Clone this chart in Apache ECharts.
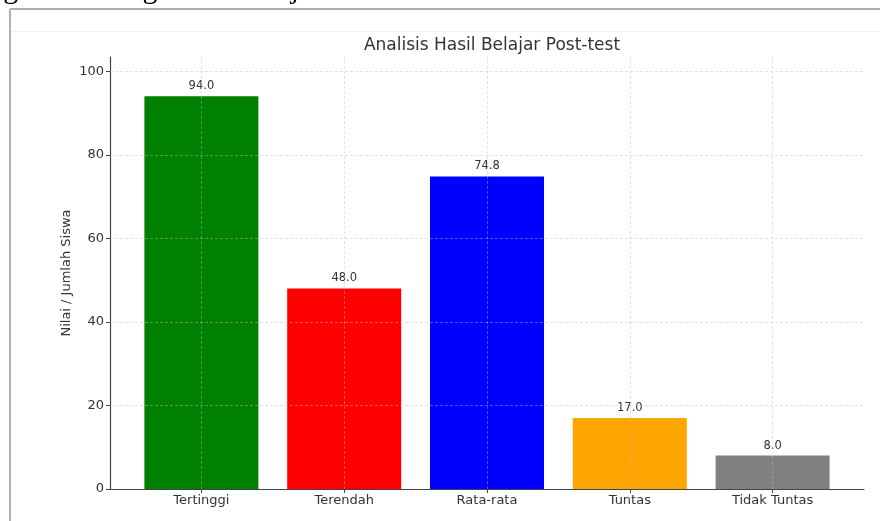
<!DOCTYPE html>
<html>
<head>
<meta charset="utf-8">
<script src="https://cdn.jsdelivr.net/npm/echarts@6/dist/echarts.min.js"></script>
<style>
  html, body { margin: 0; padding: 0; background: #fff; }
  #main { width: 880px; height: 521px; }
</style>
</head>
<body>
<div id="main"></div>
<script>
const categories = ["Tertinggi", "Terendah", "Rata-rata", "Tuntas", "Tidak Tuntas"];
const values = [94.0, 48.0, 74.8, 17.0, 8.0];
const barColors = ["#008000", "#ff0000", "#0000ff", "#ffa500", "#808080"];
const yTicks = [0, 20, 40, 60, 80, 100];

const positions = categories.map((c, i) => i);
const gridStyle = { color: "rgba(190,190,190,0.55)", type: [3, 2], width: 0.8 };

function gridLines() {
  const lines = [];
  positions.forEach((p) => lines.push({ xAxis: p }));
  yTicks.slice(1).forEach((t) => lines.push({ yAxis: t }));
  return lines;
}

const options = {
  animation: false,
  textStyle: { fontFamily: "DejaVu Sans" },
  title: {
    text: "Analisis Hasil Belajar Post-test",
    left: 487,
    top: 32,
    textAlign: "center",
    textStyle: { fontSize: 17, fontWeight: "normal", color: "#333", fontFamily: "DejaVu Sans" }
  },
  graphic: [
    { type: "text", left: -40, top: -25, style: { text: "Diagram Batang Hasil Belajar Siswa", font: "30px 'Liberation Serif'", fill: "#000" } },
    { type: "line", shape: { x1: 10, y1: 9, x2: 880, y2: 9 }, style: { stroke: "#b0b0b0", lineWidth: 2 } },
    { type: "line", shape: { x1: 10, y1: 9, x2: 10, y2: 521 }, style: { stroke: "#b0b0b0", lineWidth: 2 } },
    { type: "line", shape: { x1: 11, y1: 31.5, x2: 880, y2: 31.5 }, style: { stroke: "#efefef", lineWidth: 1 } }
  ],
  grid: { left: 110, right: 16, top: 57, bottom: 32 },
  xAxis: {
    type: "value",
    min: -0.64,
    max: 4.64,
    splitLine: { show: false },
    axisLine: { onZero: false, lineStyle: { color: "#444", width: 1.2 } },
    axisTick: { show: true, customValues: positions, length: 4, inside: false, lineStyle: { color: "#444" } },
    axisLabel: {
      customValues: positions,
      color: "#333",
      fontSize: 13,
      margin: 5,
      formatter: (v) => categories[Math.round(v)]
    }
  },
  yAxis: {
    type: "value",
    min: 0,
    max: 103.4,
    interval: 20,
    name: "Nilai / Jumlah Siswa",
    nameLocation: "middle",
    nameGap: 37,
    nameMoveOverlap: false,
    nameTextStyle: { color: "#333", fontSize: 13 },
    splitLine: { show: false },
    axisLine: { show: true, onZero: false, lineStyle: { color: "#444", width: 1.2 } },
    axisTick: { show: true, length: 4, lineStyle: { color: "#444" } },
    axisLabel: { color: "#333", fontSize: 13, margin: 6, showMaxLabel: false }
  },
  series: [
    {
      type: "bar",
      barWidth: 114,
      data: values.map((v, i) => ({ value: [positions[i], v], itemStyle: { color: barColors[i] } })),
      label: {
        show: true,
        position: "top",
        distance: 4,
        color: "#333",
        fontSize: 11.5,
        formatter: (p) => p.value[1].toFixed(1)
      },
      markLine: {
        silent: true,
        symbol: "none",
        label: { show: false },
        lineStyle: gridStyle,
        data: gridLines(),
        z: 10
      }
    }
  ]
};

var myChart = echarts.init(document.getElementById("main"));
myChart.setOption(options);
</script>
</body>
</html>
